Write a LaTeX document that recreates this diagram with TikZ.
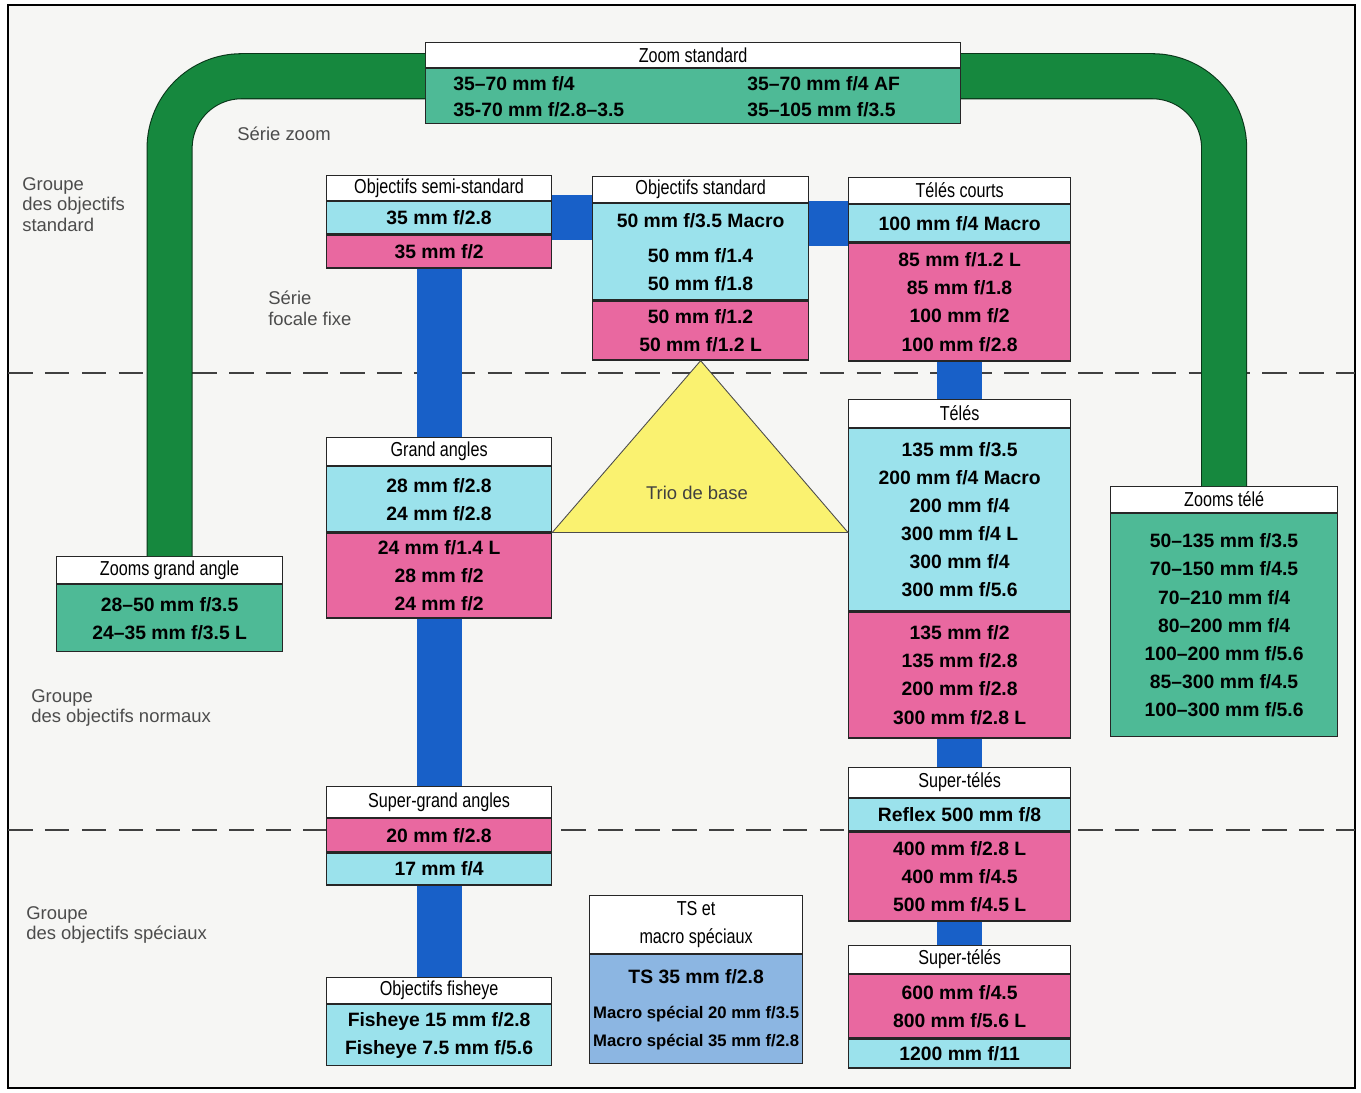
\documentclass[tikz,border=0pt]{standalone}
\usepackage{fontspec}
\setmainfont{Liberation Sans}
\newfontfamily\condfont[FakeStretch=0.8]{Liberation Sans}
\usetikzlibrary{calc}
\definecolor{LensCyan}{RGB}{155, 226, 236}
\definecolor{LensPink}{RGB}{233, 104, 160}
\definecolor{ZoomTeal}{RGB}{78, 186, 150}
\definecolor{BandGreen}{RGB}{22, 136, 62}
\definecolor{BarBlue}{RGB}{24, 96, 200}
\definecolor{TSBlue}{RGB}{140, 182, 226}
\definecolor{TrioYellow}{RGB}{250, 242, 112}
\definecolor{PaperGrey}{RGB}{246, 246, 244}

\newcommand{\hdrfont}{\condfont\fontsize{11.5}{16}\selectfont}
\newcommand{\rowfont}{\fontsize{11}{16}\selectfont\bfseries}
\newcommand{\macrofont}{\fontsize{9.5}{15}\selectfont\bfseries}
\newcommand{\labfont}{\fontsize{10.5}{11.8}\selectfont}
\def\pxu{0.02cm}

\tikzset{
  lenscell/.style 2 args={draw=black!85, line width=0.7pt, inner sep=0pt, anchor=north west,
    align=center, minimum width=#1*\pxu, minimum height=#2*\pxu},
  hdrcell/.style 2 args={lenscell={#1}{#2}, fill=white, font=\hdrfont},
  cyrow/.style 2 args={lenscell={#1}{#2}, fill=LensCyan, font=\rowfont},
  pkrow/.style 2 args={lenscell={#1}{#2}, fill=LensPink, font=\rowfont},
  tlrow/.style 2 args={lenscell={#1}{#2}, fill=ZoomTeal, font=\rowfont},
  tsrow/.style 2 args={lenscell={#1}{#2}, fill=TSBlue, font=\rowfont},
  rowtext/.style={font=\rowfont, inner sep=0pt, anchor=west},
  sidelabel/.style={font=\labfont, text=black!70, align=left, anchor=north west, inner sep=0pt},
  greenband/.style={draw=black!60!BandGreen, line width=0.6pt, double=BandGreen,
    double distance=0.88cm, rounded corners=1.44cm},
  bluebar/.style={draw=BarBlue, line width=0.9cm}
}

\begin{document}
\begin{tikzpicture}[x={(0.02cm,0)}, y={(0,-0.02cm)}]

  \useasboundingbox (0,0) rectangle (1361,1092);
  \fill[white] (0,0) rectangle (1361,1092);
  \draw[line width=0.8pt, fill=PaperGrey] (8,5) rectangle (1355,1088);

  % Group dividers
  \foreach \y in {373, 830}
    \draw[black!75, line width=0.6pt, dash pattern=on 14pt off 7pt] (8,\y) -- (1355,\y);

  % --- Zoom series ---
  \node[hdrcell={535}{25}] (zsT) at (425,42) {Zoom standard};
  \node[tlrow={535}{55}] (zsA) at (zsT.south west) {};
  \node[rowtext] (zs1) at (453,84) {35–70 mm f/4};
  \node[rowtext] (zs2) at (453,110) {35-70 mm f/2.8–3.5};
  \node[rowtext] (zs3) at (747,84) {35–70 mm f/4 AF};
  \node[rowtext] (zs4) at (747,110) {35–105 mm f/3.5};

  \node[hdrcell={226}{27}] (zgT) at (56,556) {Zooms grand angle};
  \node[tlrow={226}{67}] (zgA) at (zgT.south west) {28–50 mm f/3.5\\24–35 mm f/3.5 L};

  \node[hdrcell={227}{26}] (ztT) at (1110,486) {Zooms télé};
  \node[tlrow={227}{223}] (ztA) at (ztT.south west)
    {50–135 mm f/3.5\\70–150 mm f/4.5\\70–210 mm f/4\\80–200 mm f/4\\100–200 mm f/5.6\\85–300 mm f/4.5\\100–300 mm f/5.6};

  % Green band (zoom series)
  \draw[greenband] (zgT.north) |- ([yshift=-0.16cm]zsT.south west);
  \draw[greenband] ([yshift=-0.16cm]zsT.south east) -| (ztT.north);

  % --- Fixed focal series, left column ---
  \node[hdrcell={225}{25}] (semiT) at (326,175) {Objectifs semi-standard};
  \node[cyrow={225}{32}] (semiC) at (semiT.south west) {35 mm f/2.8};
  \node[pkrow={225}{33}] (semiP) at (semiC.south west) {35 mm f/2};

  \node[hdrcell={225}{28}] (grT) at (326,437) {Grand angles};
  \node[cyrow={225}{65}] (grC) at (grT.south west) {28 mm f/2.8\\24 mm f/2.8};
  \node[pkrow={225}{85}] (grP) at (grC.south west) {24 mm f/1.4 L\\28 mm f/2\\24 mm f/2};

  \node[hdrcell={225}{31}] (sgT) at (326,786) {Super-grand angles};
  \node[pkrow={225}{33}] (sgP) at (sgT.south west) {20 mm f/2.8};
  \node[cyrow={225}{32}] (sgC) at (sgP.south west) {17 mm f/4};

  \node[hdrcell={225}{26}] (fishT) at (326,977) {Objectifs fisheye};
  \node[cyrow={225}{61}] (fishC) at (fishT.south west) {Fisheye 15 mm f/2.8\\Fisheye 7.5 mm f/5.6};

  % --- Middle column ---
  \node[hdrcell={216}{26}] (stdT) at (592,176) {Objectifs standard};
  \node[cyrow={216}{96}] (stdC) at (stdT.south west) {50 mm f/3.5 Macro\\[4pt]50 mm f/1.4\\50 mm f/1.8};
  \node[pkrow={216}{59}] (stdP) at (stdC.south west) {50 mm f/1.2\\50 mm f/1.2 L};

  \node[hdrcell={213}{58}] (tsT) at (589,895) {TS et\\macro spéciaux};
  \node[tsrow={213}{109}] (tsB) at (tsT.south west)
    {TS 35 mm f/2.8\\[4pt]{\macrofont Macro spécial 20 mm f/3.5}\\{\macrofont Macro spécial 35 mm f/2.8}};

  % --- Right column ---
  \node[hdrcell={222}{26}] (tcT) at (848,177) {Télés courts};
  \node[cyrow={222}{37}] (tcC) at (tcT.south west) {100 mm f/4 Macro};
  \node[pkrow={222}{118}] (tcP) at (tcC.south west) {85 mm f/1.2 L\\85 mm f/1.8\\100 mm f/2\\100 mm f/2.8};

  \node[hdrcell={222}{28}] (teT) at (848,399) {Télés};
  \node[cyrow={222}{182}] (teC) at (teT.south west)
    {135 mm f/3.5\\200 mm f/4 Macro\\200 mm f/4\\300 mm f/4 L\\300 mm f/4\\300 mm f/5.6};
  \node[pkrow={222}{126}] (teP) at (teC.south west) {135 mm f/2\\135 mm f/2.8\\200 mm f/2.8\\300 mm f/2.8 L};

  \node[hdrcell={222}{30}] (st1T) at (848,767) {Super-télés};
  \node[cyrow={222}{32}] (st1C) at (st1T.south west) {Reflex 500 mm f/8};
  \node[pkrow={222}{89}] (st1P) at (st1C.south west) {400 mm f/2.8 L\\400 mm f/4.5\\500 mm f/4.5 L};

  \node[hdrcell={222}{28}] (st2T) at (848,945) {Super-télés};
  \node[pkrow={222}{63}] (st2P) at (st2T.south west) {600 mm f/4.5\\800 mm f/5.6 L};
  \node[cyrow={222}{29}] (st2C) at (st2P.south west) {1200 mm f/11};

  % Blue bars (fixed focal series)
  \foreach \a/\b in {semiP/grT, grP/sgT, sgC/fishT, tcP/teT, teP/st1T, st1P/st2T}
    \draw[bluebar] (\a.south) -- (\b.north);
  \draw[bluebar] (semiC.east) -- (semiC.east -| stdC.west);
  \draw[bluebar] (tcC.west) -- (tcC.west -| stdC.east);

  % Trio de base
  \coordinate (triL) at (grC.south east);
  \coordinate (triR) at (grC.south east -| teC.west);
  \coordinate (triT) at (stdP.south);
  \draw[black!70, line width=0.5pt, fill=TrioYellow] (triL) -- (triT) -- (triR) -- cycle;
  \node[font=\labfont, text=black!75] (trio) at (697,493) {Trio de base};

  % Labels
  \node[sidelabel, anchor=west] (lzoom) at (237,134) {Série zoom};
  \node[sidelabel] (lfixe) at (268,291) {Série\\focale fixe};
  \node[sidelabel] (gstd) at (22,177) {Groupe\\des objectifs\\standard};
  \node[sidelabel] (gnorm) at (31,689) {Groupe\\des objectifs normaux};
  \node[sidelabel] (gspec) at (26,906) {Groupe\\des objectifs spéciaux};

\end{tikzpicture}
\end{document}
